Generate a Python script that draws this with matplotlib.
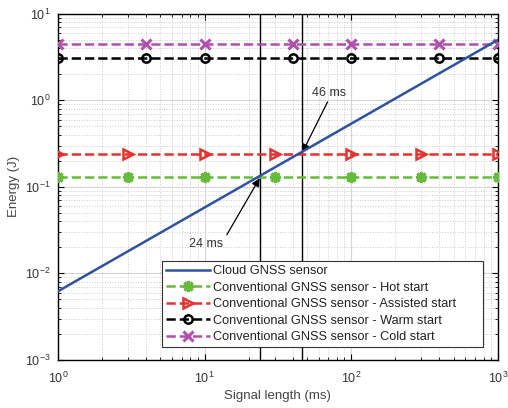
import numpy as np
import matplotlib
matplotlib.use('Agg')
import matplotlib.pyplot as plt

plt.rcParams['font.family'] = ['Liberation Sans', 'DejaVu Sans']
plt.rcParams['mathtext.fontset'] = 'custom'
plt.rcParams['mathtext.rm'] = 'Liberation Sans'

# data
cloud_t = [1, 1000]
cloud_e = [0.0062, 5.0]

hot_t = [1, 3, 10, 30, 100, 300, 1000]
hot_e = 0.130
assisted_t = [1, 3, 10, 30, 100, 300, 1000]
assisted_e = 0.242
warm_t = [1, 4, 10, 40, 100, 400, 1000]
warm_e = 3.13
cold_t = [1, 4, 10, 40, 100, 400, 1000]
cold_e = 4.5

cross_t = [24, 46]
cross_e = [hot_e, assisted_e]
cross_labels = ['24 ms', '46 ms']

fig = plt.figure(figsize=(5.08, 4.08), dpi=100)
ax = fig.add_axes([0.114, 0.118, 0.866, 0.848])

ax.plot(cloud_t, cloud_e, color='#2f52a0', lw=1.8, label='Cloud GNSS sensor', zorder=4)
ax.plot(hot_t, [hot_e]*len(hot_t), '--', color='#66bb3c', lw=1.8, marker=(8, 2, 0),
        ms=8, mew=2.2, label='Conventional GNSS sensor - Hot start', zorder=3)
ax.plot(assisted_t, [assisted_e]*len(assisted_t), '--', color='#e8302e', lw=1.8, marker='>',
        ms=7, mew=1.8, mfc='none', label='Conventional GNSS sensor - Assisted start', zorder=3)
ax.plot(warm_t, [warm_e]*len(warm_t), '--', color='black', lw=1.8, marker='o',
        ms=6, mew=1.8, mfc='none', label='Conventional GNSS sensor - Warm start', zorder=3)
ax.plot(cold_t, [cold_e]*len(cold_t), '--', color='#b04fae', lw=1.8, marker='x',
        ms=7, mew=2.2, label='Conventional GNSS sensor - Cold start', zorder=3)

for t in cross_t:
    ax.axvline(t, color='black', lw=1.0, zorder=2)

# annotations: arrow tail sits near the text, head on the crossing
arrow_kw = dict(arrowstyle='-|>', color='black', lw=0.9, mutation_scale=12,
                shrinkA=0, shrinkB=1)
ax.annotate('', xy=(cross_t[0], cross_e[0]), xytext=(14.2, 0.028), arrowprops=arrow_kw)
ax.text(10.2, 0.022, cross_labels[0], fontsize=9, ha='center', va='center', color='#333333')
ax.annotate('', xy=(cross_t[1], cross_e[1]), xytext=(69, 0.96), arrowprops=arrow_kw)
ax.text(71, 1.22, cross_labels[1], fontsize=9, ha='center', va='center', color='#333333')

ax.set_xscale('log')
ax.set_yscale('log')
ax.set_xlim(1, 1000)
ax.set_ylim(1e-3, 10)

ax.grid(True, which='major', color='#d4d4d4', lw=0.8, ls='-')
ax.grid(True, which='minor', color='#cccccc', lw=0.7, ls=':')
ax.set_axisbelow(True)

ax.tick_params(which='both', direction='in', top=True, right=True, labelsize=9,
               labelcolor='#333333')
ax.tick_params(axis='x', which='major', pad=8)
ax.tick_params(axis='y', which='major', pad=5)
ax.tick_params(which='major', length=4, width=0.8)
ax.tick_params(which='minor', length=2, width=0.6)
for s in ax.spines.values():
    s.set_linewidth(1.0)

ax.set_xlabel('Signal length (ms)', fontsize=9.5, color='#444444', labelpad=3)
ax.set_ylabel('Energy (J)', fontsize=9.5, color='#444444')

leg = ax.legend(loc='lower left', bbox_to_anchor=(0.236, 0.037, 0.730, 0.257),
                mode='expand', fontsize=9.2,
                numpoints=1, handlelength=3.5, handletextpad=0.2, borderpad=0.3,
                labelspacing=0.35, fancybox=False, framealpha=1, edgecolor='#333333',
                borderaxespad=0)
leg.get_frame().set_linewidth(0.8)
for t in leg.get_texts():
    t.set_color('#222222')

fig.savefig('out.png', dpi=100)
